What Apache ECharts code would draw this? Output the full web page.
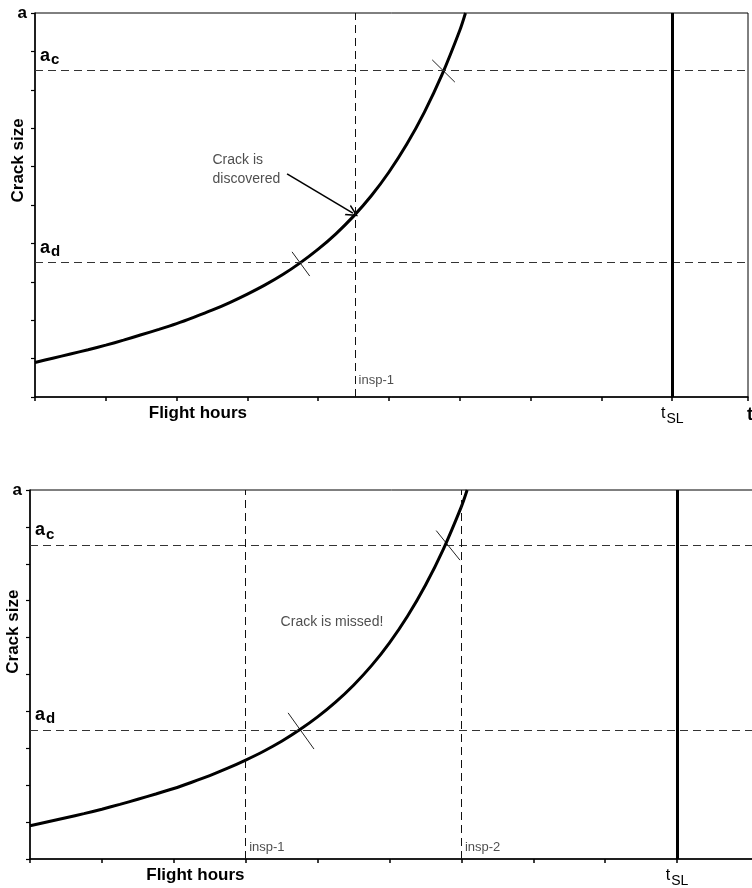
<!DOCTYPE html>
<html><head><meta charset="utf-8">
<script src="https://cdn.jsdelivr.net/npm/echarts@6.0.0/dist/echarts.min.js"></script>
<style>html,body{margin:0;padding:0;background:#fff}#c{width:752px;height:888px}</style>
</head><body><div id="c"></div>
<script>
// ---- data (chart units: x = flight hours, y = crack size) ----
const crackHours = [0, 0.25, 0.5, 0.75, 1, 1.25, 1.5, 1.75, 2, 2.25, 2.5, 2.75, 3, 3.25, 3.5, 3.75, 4, 4.25, 4.5, 4.75, 5, 5.25, 5.5, 5.75, 6, 6.08];
const crackSize  = [0.90, 1.01, 1.12, 1.23, 1.35, 1.48, 1.62, 1.76, 1.91, 2.08, 2.26, 2.46, 2.68, 2.92, 3.19, 3.50, 3.85, 4.25, 4.71, 5.24, 5.86, 6.58, 7.42, 8.40, 9.55, 10];
const aCritical = 8.5;
const aDetect = 3.5;
const tServiceLife = 9;
const xMax = 10.07;
const yMax = 10;
const xTickValues = [0, 1, 2, 3, 4, 5, 6, 7, 8, 9, 10.07];
const yTickValues = [0, 1, 2, 3, 4, 5, 6, 7, 8, 9, 10];
const inspTop = [4.52];
const inspTopNames = ['insp-1'];
const inspBottom = [3.0, 6.0];
const inspBottomNames = ['insp-1', 'insp-2'];
const crossMarksTop = [[[3.63, 3.78], [3.88, 3.15]], [[5.61, 8.78], [5.93, 8.2]]];
const crossMarksBottom = [[[3.59, 3.96], [3.95, 2.98]], [[5.65, 8.9], [5.98, 8.1]]];
const arrowTop = [[3.56, 5.81], [4.49, 4.79]];
const noteTop = 'Crack is\ndiscovered';
const noteBottom = 'Crack is missed!';

const FONT = "'Liberation Sans', Arial, sans-serif";
const chart = echarts.init(document.getElementById('c'), null, {renderer: 'canvas'});

function xAxisFor(gi) {
  return {
    type: 'value', gridIndex: gi, min: 0, max: xMax,
    axisLine: {show: true, onZero: false, lineStyle: {color: '#000', width: 1.5}},
    axisTick: {show: true, length: 4, customValues: xTickValues, lineStyle: {color: '#000', width: 1.5}},
    splitLine: {show: false},
    axisLabel: {
      show: true, customValues: [2.3, tServiceLife, xMax], margin: 6, fontFamily: FONT, hideOverlap: false,
      formatter: v => (Math.abs(v - 2.3) < 1e-6 ? '{b|Flight hours}' : (v === tServiceLife ? '{n|t}{s|SL}' : '{e|t}')),
      rich: {
        b: {fontSize: 17, fontWeight: 'bold', color: '#000', fontFamily: FONT, lineHeight: 20},
        e: {fontSize: 18, fontWeight: 'bold', color: '#000', fontFamily: FONT, lineHeight: 20, padding: [4, 0, 0, 4]},
        n: {fontSize: 16, color: '#000', fontFamily: FONT, lineHeight: 20, verticalAlign: 'top', padding: [3, 0, 0, 0]},
        s: {fontSize: 14, color: '#000', fontFamily: FONT, lineHeight: 20, verticalAlign: 'top', padding: [9, 0, 0, 1]}
      }
    }
  };
}
function yAxisFor(gi) {
  return {
    type: 'value', gridIndex: gi, min: 0, max: yMax, interval: 1,
    axisLine: {show: true, onZero: false, lineStyle: {color: '#000', width: 1.5}},
    axisTick: {show: true, length: 4, customValues: yTickValues, lineStyle: {color: '#000', width: 1.2}},
    splitLine: {show: false},
    axisLabel: {show: true, customValues: [yMax], margin: 8, formatter: () => 'a',
      fontSize: 17, fontWeight: 'bold', color: '#000', fontFamily: FONT}
  };
}
function yNameAxisFor(gi) {
  return {
    type: 'value', gridIndex: gi, min: 0, max: yMax, position: 'left',
    axisLine: {show: false}, axisTick: {show: false}, splitLine: {show: false},
    axisLabel: {show: true, customValues: [6.16], rotate: 90, margin: 8, formatter: () => 'Crack size',
      fontSize: 17, fontWeight: 'bold', color: '#000', fontFamily: FONT}
  };
}

const subRich = {
  a: {fontSize: 18, fontWeight: 'bold', color: '#000', fontFamily: FONT},
  s: {fontSize: 15, fontWeight: 'bold', color: '#000', fontFamily: FONT, padding: [9, 0, 0, 1]}
};

function seriesFor(gi, insp, inspNames, marks, arrow, note, notePos, inspLabelY) {
  const xi = gi, yi = gi * 2;
  const out = [];
  out.push({
    type: 'line', xAxisIndex: xi, yAxisIndex: yi, silent: true,
    data: crackHours.map((h, i) => [h, crackSize[i]]),
    smooth: 0.3, symbol: 'none', clip: true,
    lineStyle: {color: '#000', width: 3},
    markLine: {
      silent: true, symbol: ['none', 'none'], animation: false,
      lineStyle: {type: [8, 5], color: '#333', width: 1.2},
      data: [
        {yAxis: aCritical, label: {show: true, position: 'insideStartTop', distance: [5, 3], formatter: '{a|a}{s|c}', rich: subRich}},
        {yAxis: aDetect, label: {show: true, position: 'insideStartTop', distance: [5, 3], formatter: '{a|a}{s|d}', rich: subRich}},
        ...insp.map(x => ({xAxis: x, label: {show: false}, lineStyle: {type: [8, 5], color: '#111', width: 1}})),
        {xAxis: tServiceLife, label: {show: false}, lineStyle: {type: 'solid', color: '#000', width: 3}}
      ]
    }
  });
  out.push({
    type: 'lines', coordinateSystem: 'cartesian2d', xAxisIndex: xi, yAxisIndex: yi, silent: true,
    symbol: ['none', 'none'],
    lineStyle: {color: '#222', width: 1, opacity: 1},
    data: marks.map(m => ({coords: m}))
  });
  if (arrow) {
    out.push({
      type: 'lines', coordinateSystem: 'cartesian2d', xAxisIndex: xi, yAxisIndex: yi, silent: true,
      symbol: ['none', 'path://M0,10 L5,0 L10,10 L8.6,10 L5,2.8 L1.4,10 Z'], symbolSize: 12,
      lineStyle: {color: '#000', width: 1.6, opacity: 1},
      itemStyle: {color: '#000'},
      data: [{coords: arrow}]
    });
  }
  const multi = note.indexOf('\n') >= 0;
  const labels = insp.map((x, i) => ({value: [x, inspLabelY], label: {position: 'right', distance: 3, formatter: inspNames[i], fontSize: 13}}));
  labels.push({value: notePos, label: {position: multi ? 'right' : 'inside', distance: 0, formatter: note, align: multi ? 'left' : 'center'}});
  out.push({
    type: 'scatter', xAxisIndex: xi, yAxisIndex: yi, silent: true, symbolSize: 1,
    itemStyle: {color: 'rgba(0,0,0,0)'},
    label: {show: true, fontSize: 14, color: '#222', fontFamily: FONT, lineHeight: 19},
    data: labels
  });
  return out;
}

const option = {
  animation: false,
  backgroundColor: '#fff',
  grid: [
    {left: 35, top: 13, width: 713, height: 384, show: true, borderColor: '#000', borderWidth: 1, backgroundColor: 'transparent', outerBoundsMode: 'none', containLabel: false},
    {left: 30, top: 490, width: 724, height: 369, show: true, borderColor: '#000', borderWidth: 1, backgroundColor: 'transparent', outerBoundsMode: 'none', containLabel: false}
  ],
  xAxis: [xAxisFor(0), xAxisFor(1)],
  yAxis: [yAxisFor(0), yNameAxisFor(0), yAxisFor(1), yNameAxisFor(1)],
  series: [
    ...seriesFor(0, inspTop, inspTopNames, crossMarksTop, arrowTop, noteTop, [2.5, 5.91], 0.42),
    ...seriesFor(1, inspBottom, inspBottomNames, crossMarksBottom, null, noteBottom, [4.2, 6.42], 0.32)
  ]
};
chart.setOption(option);
</script></body></html>
